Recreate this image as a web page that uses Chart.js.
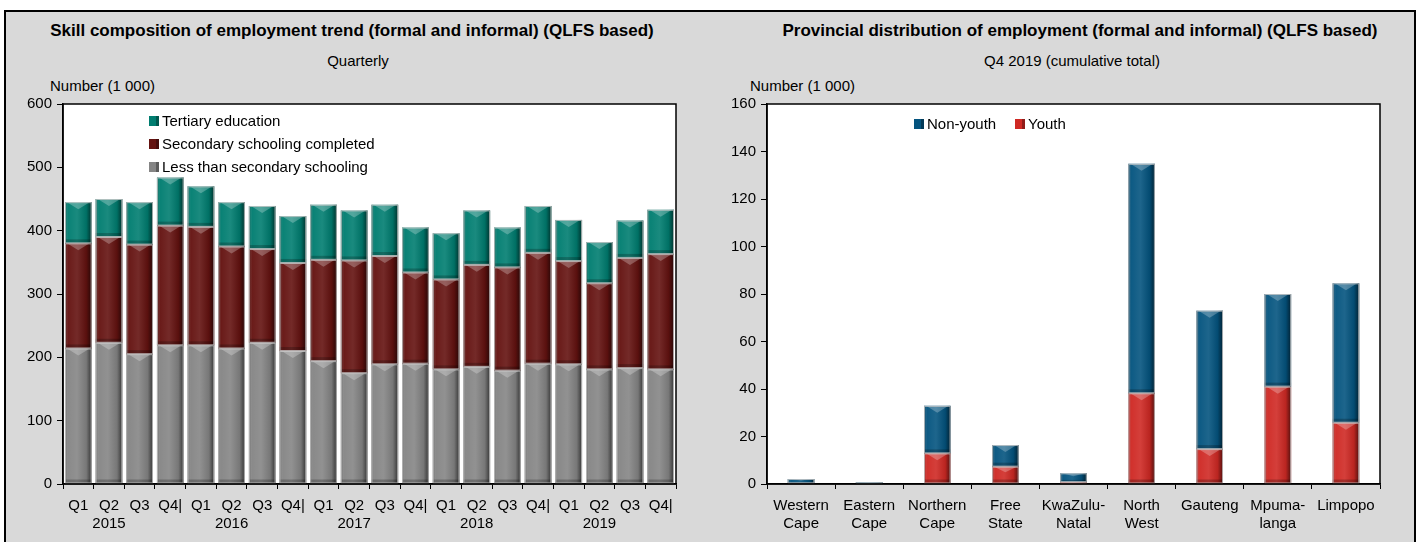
<!DOCTYPE html>
<html>
<head>
<meta charset="utf-8">
<script src="https://cdn.jsdelivr.net/npm/chart.js@4.4.1/dist/chart.umd.min.js"></script>
<style>
  body { margin: 0; width: 1419px; height: 542px; background: #fff; position: relative; overflow: hidden;
         font-family: 'Liberation Sans Narrow', 'Arial Narrow', 'Liberation Sans', Arial, sans-serif; }
  #frame { position: absolute; left: 4px; top: 10px; width: 1408px; height: 540px; background: #d9d9d9;
           border: 2px solid #000; border-bottom: none; }
  .txt { position: absolute; white-space: nowrap; color: #000; }
  .title { font-weight: bold; font-size: 17px; top: 21px; transform: translateX(-50%); }
  .sub { font-size: 15px; top: 52px; transform: translateX(-50%); }
  .unit { font-size: 15px; top: 77px; }
  canvas { position: absolute; top: 0; }
</style>
</head>
<body>
<div id="frame"></div>
<div class="txt title" style="left:352px">Skill composition of employment trend (formal and informal) (QLFS based)</div>
<div class="txt sub" style="left:358px">Quarterly</div>
<div class="txt unit" style="left:50px">Number (1 000)</div>
<div class="txt title" style="left:1080px">Provincial distribution of employment (formal and informal) (QLFS based)</div>
<div class="txt sub" style="left:1072px">Q4 2019 (cumulative total)</div>
<div class="txt unit" style="left:750px">Number (1 000)</div>

<canvas id="skillChart" width="710" height="542" style="left:0"></canvas>
<canvas id="provChart" width="709" height="542" style="left:710px"></canvas>

<script>
// ---- data: skill composition (thousands), quarterly 2015-2019
const quarters = [
    ['Q1'], ['Q2', '2015'], ['Q3'], ['Q4|'],
    ['Q1'], ['Q2', '2016'], ['Q3'], ['Q4|'],
    ['Q1'], ['Q2', '2017'], ['Q3'], ['Q4|'],
    ['Q1'], ['Q2', '2018'], ['Q3'], ['Q4|'],
    ['Q1'], ['Q2', '2019'], ['Q3'], ['Q4|']
];
const lessThanSecondary = [214, 223, 205, 219, 219, 214, 223, 210, 194, 175, 189, 190, 181, 185, 179, 190, 189, 181, 183, 181];
const secondaryCompleted = [166, 167, 173, 189, 187, 161, 148, 139, 160, 178, 171, 144, 142, 161, 163, 175, 163, 136, 174, 182];
const tertiaryEducation = [65, 60, 67, 76, 64, 70, 68, 74, 87, 79, 81, 71, 73, 86, 63, 74, 65, 65, 59, 70];
const skillTicks = [0, 100, 200, 300, 400, 500, 600];

// ---- data: provincial distribution Q4 2019 (thousands)
const provinces = [
    ['Western', 'Cape'], ['Eastern', 'Cape'], ['Northern', 'Cape'], ['Free', 'State'],
    ['KwaZulu-', 'Natal'], ['North', 'West'], ['Gauteng'], ['Mpuma-', 'langa'], ['Limpopo']
];
const youth = [0.3, 0, 12.9, 7.3, 0.8, 38.2, 14.7, 41, 25.8];
const nonYouth = [1.8, 0.8, 20, 9.1, 3.7, 96.6, 58.3, 39, 58.7];
const provTicks = [0, 20, 40, 60, 80, 100, 120, 140, 160];

Chart.defaults.font.family = "'Liberation Sans Narrow', 'Arial Narrow', 'Liberation Sans', Arial, sans-serif";
Chart.defaults.font.size = 15;
Chart.defaults.color = '#000';

// white plot area with a thin black frame
const plotFrame = {
    id: 'plotFrame',
    beforeDraw(chart) {
        const { ctx, chartArea: a } = chart;
        ctx.save();
        ctx.fillStyle = '#fff';
        ctx.fillRect(a.left, a.top, a.right - a.left, a.bottom - a.top);
        ctx.restore();
    },
    afterDraw(chart) {
        const { ctx, chartArea: a } = chart;
        ctx.save();
        ctx.strokeStyle = '#000';
        ctx.lineWidth = 1.5;
        ctx.strokeRect(a.left, a.top, a.right - a.left, a.bottom - a.top);
        ctx.restore();
    }
};

// bevel shading laid over each bar the library drew
const bevel = {
    id: 'bevel',
    afterDatasetsDraw(chart) {
        const ctx = chart.ctx;
        chart.data.datasets.forEach((ds, i) => {
            chart.getDatasetMeta(i).data.forEach(bar => {
                const { x, y, base, width } = bar.getProps(['x', 'y', 'base', 'width'], true);
                const left = x - width / 2;
                const top = Math.min(y, base);
                const h = Math.abs(base - y);
                if (h < 1) return;
                ctx.save();
                const g = ctx.createLinearGradient(left, 0, left + width, 0);
                g.addColorStop(0, 'rgba(0,0,0,0.35)');
                g.addColorStop(0.12, 'rgba(255,255,255,0.04)');
                g.addColorStop(0.45, 'rgba(255,255,255,0.10)');
                g.addColorStop(0.8, 'rgba(0,0,0,0.10)');
                g.addColorStop(1, 'rgba(0,0,0,0.6)');
                ctx.fillStyle = g;
                ctx.fillRect(left, top, width, h);
                const cap = Math.min(7, h / 3);
                ctx.fillStyle = 'rgba(255,255,255,0.25)';
                ctx.beginPath();
                ctx.moveTo(left + 2, top);
                ctx.lineTo(left + width - 2, top);
                ctx.lineTo(x, top + cap);
                ctx.closePath();
                ctx.fill();
                ctx.fillStyle = 'rgba(0,0,0,0.22)';
                ctx.fillRect(left, top + h - Math.min(4, h / 4), width, Math.min(4, h / 4));
                ctx.strokeStyle = 'rgba(200,200,200,0.8)';
                ctx.lineWidth = 1;
                ctx.strokeRect(left + 0.5, top + 0.5, width - 1, h - 1);
                ctx.restore();
            });
        });
    }
};

// legend drawn inside the plot, items listed top series first
const innerLegend = {
    id: 'innerLegend',
    afterDraw(chart, args, opts) {
        const ctx = chart.ctx;
        const items = chart.data.datasets.slice().reverse();
        ctx.save();
        ctx.font = "15px 'Liberation Sans Narrow', 'Arial Narrow', 'Liberation Sans', Arial, sans-serif";
        ctx.textBaseline = 'middle';
        items.forEach((ds, i) => {
            const bx = opts.x + i * opts.dx;
            const by = opts.y + i * opts.dy;
            ctx.fillStyle = ds.backgroundColor;
            ctx.fillRect(bx, by - 5, 10, 10);
            ctx.fillStyle = 'rgba(0,0,0,0.3)';
            ctx.fillRect(bx + 7, by - 5, 3, 10);
            ctx.fillStyle = '#000';
            ctx.fillText(ds.label, bx + 13, by + 1);
        });
        ctx.restore();
    }
};

function axisX() {
    return {
        stacked: true,
        afterFit: s => { s.height = 52; },
        grid: { drawOnChartArea: false, drawTicks: true, tickLength: 5, color: '#000', offset: true },
        border: { display: true, color: '#000', width: 1.5 },
        ticks: { autoSkip: false, maxRotation: 0, padding: 8, color: '#000' }
    };
}

function axisY(max, step) {
    return {
        stacked: true,
        min: 0,
        max: max,
        afterFit: s => { s.width = 50; },
        grid: { drawOnChartArea: false, drawTicks: true, tickLength: 6, color: '#000' },
        border: { display: true, color: '#000', width: 1.5 },
        ticks: { stepSize: step, padding: 5, color: '#000' }
    };
}

// ---- left chart
new Chart(document.getElementById('skillChart'), {
    type: 'bar',
    data: {
        labels: quarters,
        datasets: [
            { label: 'Less than secondary schooling', data: lessThanSecondary, backgroundColor: '#858585' },
            { label: 'Secondary schooling completed', data: secondaryCompleted, backgroundColor: '#641210' },
            { label: 'Tertiary education', data: tertiaryEducation, backgroundColor: '#007d70' }
        ]
    },
    options: {
        responsive: false,
        animation: false,
        layout: { padding: { left: 13, right: 34, top: 104, bottom: 6 } },
        datasets: { bar: { barPercentage: 0.87, categoryPercentage: 1 } },
        scales: {
            x: axisX(),
            y: axisY(skillTicks[skillTicks.length - 1], skillTicks[1] - skillTicks[0])
        },
        plugins: {
            legend: { display: false },
            tooltip: { enabled: false },
            innerLegend: { x: 149, y: 121, dx: 0, dy: 23 }
        }
    },
    plugins: [plotFrame, bevel, innerLegend]
});

// ---- right chart
new Chart(document.getElementById('provChart'), {
    type: 'bar',
    data: {
        labels: provinces,
        datasets: [
            { label: 'Youth', data: youth, backgroundColor: '#cf2924' },
            { label: 'Non-youth', data: nonYouth, backgroundColor: '#04547f' }
        ]
    },
    options: {
        responsive: false,
        animation: false,
        layout: { padding: { left: 7, right: 39, top: 104, bottom: 6 } },
        datasets: { bar: { barPercentage: 0.39, categoryPercentage: 1 } },
        scales: {
            x: axisX(),
            y: axisY(provTicks[provTicks.length - 1], provTicks[1] - provTicks[0])
        },
        plugins: {
            legend: { display: false },
            tooltip: { enabled: false },
            innerLegend: { x: 204, y: 124, dx: 101, dy: 0 }
        }
    },
    plugins: [plotFrame, bevel, innerLegend]
});
</script>
</body>
</html>
